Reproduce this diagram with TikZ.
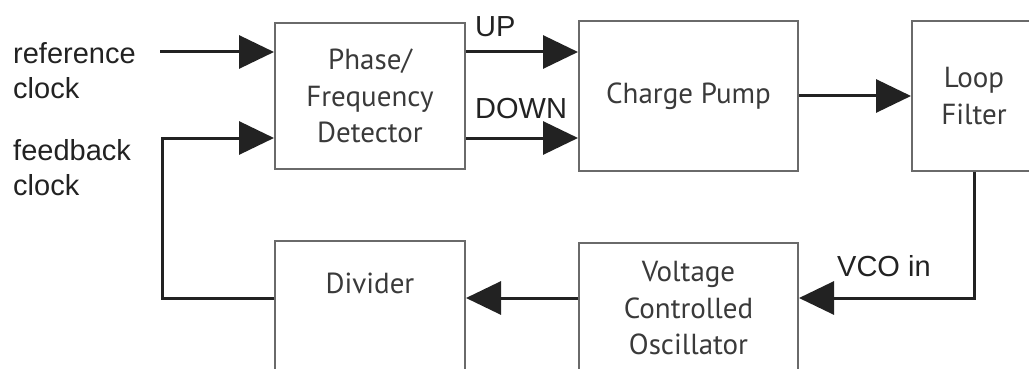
\documentclass[tikz,border=0pt]{standalone}
\usepackage{fontspec}
\setmainfont{Liberation Sans}
\newfontfamily\blockfont{PT Sans}
\usepackage{tikz}
\usetikzlibrary{arrows.meta,positioning}
\definecolor{pll-edge}{HTML}{6A6A6A}
\definecolor{pll-ink}{HTML}{222222}
\definecolor{pll-text}{HTML}{3A3A3A}

\tikzset{
  blk/.style={draw=pll-edge, line width=2pt, rectangle, inner sep=0pt,
    text=pll-text, align=center,
    font=\blockfont\fontsize{29pt}{36.5pt}\selectfont},
  sig/.style={draw=pll-ink, line width=3pt,
    -{Triangle[length=35pt,width=33pt]}},
  wire/.style={draw=pll-ink, line width=3pt},
  lbl/.style={inner sep=0pt, text=pll-ink, align=left,
    font=\fontsize{29pt}{35pt}\selectfont}
}

\begin{document}
\begin{tikzpicture}[x=1pt, y=-1pt, node distance=112pt, line join=miter]
    \useasboundingbox (0,0) rectangle (1029,369);
    \clip (0,0) rectangle (1029,369);
    % top row
    \node[blk, minimum width=190pt, minimum height=146pt] (pfd) at (370,96) {Phase/\\Frequency\\Detector};
    \node[blk, minimum width=219pt, minimum height=149pt, right=112pt of pfd] (cp) {Charge Pump};
    \node[blk, minimum width=124pt, minimum height=149pt, right=112pt of cp] (lf) {Loop\\Filter};
    % bottom row
    \node[blk, minimum width=190pt, minimum height=150pt, below=70pt of pfd] (div) {};
    \node[blk, minimum width=219pt, minimum height=150pt, below=70pt of cp] (vco) {};
    \node[blk, draw=none, below=32pt of div.north] (divtxt) {Divider};
    \node[blk, draw=none, below=19pt of vco.north] (vcotxt) {Voltage\\Controlled\\Oscillator};
    % signal levels
    \coordinate (upline) at (0,52);
    \coordinate (dnline) at (0,138);
    \coordinate (lowbus) at (0,298);
    \coordinate (refin) at (160,52);
    \coordinate (fbk) at (162,138);
    % inputs
    \node[lbl, anchor=north west] (reflbl) at (13,42) {reference\\clock};
    \node[lbl, anchor=north west] (fbklbl) at (13,139) {feedback\\clock};
    \draw[sig] (refin) -- (refin -| pfd.west);
    \draw[sig] (div.west |- lowbus) -| (fbk) -- (fbk -| pfd.west);
    % detector outputs
    \draw[sig] (pfd.east |- upline) -- (cp.west |- upline);
    \draw[sig] (pfd.east |- dnline) -- (cp.west |- dnline);
    \node[lbl, anchor=base west] (uplbl) at ([xshift=9pt,yshift=15pt]pfd.east |- upline) {UP};
    \node[lbl, anchor=base west] (dnlbl) at ([xshift=9pt,yshift=20pt]pfd.east |- dnline) {DOWN};
    % loop
    \draw[sig] (cp.east) -- (cp.east -| lf.west);
    \draw[sig] (lf.south) |- (vco.east |- lowbus);
    \node[lbl, anchor=base west] (vcolbl) at ([xshift=38pt,yshift=22pt]vco.east |- lowbus) {VCO in};
    \draw[sig] (vco.west |- lowbus) -- (div.east |- lowbus);
\end{tikzpicture}
\end{document}
